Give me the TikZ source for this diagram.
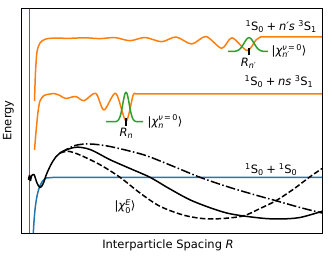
\documentclass[tikz,border=0pt]{standalone}
\usepackage{amsmath}
\usepackage{fontspec}
\setmainfont{DejaVu Sans}
\definecolor{mplblue}{HTML}{1F77B4}
\definecolor{mplorange}{HTML}{FF7F0E}
\definecolor{mplgreen}{HTML}{2CA02C}
\newcommand{\atomlvl}[2]{{}^{\text{#1}}\text{S}_{\text{#2}}}
\newcommand{\pl}{\mathbin{\text{+}}}
\newcommand{\chiket}[2]{\text{|}\textit{χ}^{#1}_{#2}\text{⟩}}
\usetikzlibrary{positioning}

\begin{document}
\begin{tikzpicture}[x=1pt,y=-1pt,
    font=\fontsize{11.5}{13.8}\selectfont,
    curve/.style={line width=1.5pt,line join=round},
    gauss/.style={curve,mplgreen},
    marker/.style={line width=1.6pt,black},
    lbl/.style={inner sep=0pt}]
    \useasboundingbox (0,0) rectangle (332,256);

    \begin{scope}
    \clip (21.5,8.5) rectangle (322,233.5);
    % ground state potential
    \draw[curve,mplblue] (29.5,0) -- (29.5,240);
    \draw[curve,mplblue] (33,240) .. controls (34.5,205) and (37,183) .. (46,178) -- (55,177.3) -- (330,177.3);

    % excited potentials
    \draw[curve,mplorange] plot[smooth] coordinates {(34.5,101) (35.5,72) (37,52) (40,43) (45,39.3) (52,38.2) (70,38.3) (85,37.8) (100,38.6) (115,37.6) (130,40.7) (145,37.5) (161.7,41.7) (176,37) (191.7,44) (206,36.5) (221.7,48.3) (232,37.8) (247,50.5) (256,40) (261,36.8)} -- (330,36.8);
    \draw[curve,mplorange] plot[smooth] coordinates {(34.5,150) (36,132) (38,112) (40,101) (44,95.5) (50,94) (54,93.5) (60,95.5) (65.7,98.5) (75.7,96.5) (84,100.7) (95.7,93.3) (104,110) (115.7,93.3) (126,121) (133,95.5) (136,94)} -- (330,94);

    % scattering wavefunction
    \draw[curve,black] plot[smooth] coordinates {(28.5,180) (29.5,175.5) (30.5,180.5) (31.5,176) (34,174.5) (37,183) (40,187.5) (43,184) (47,173) (53,161) (60,153) (75,147.3) (90,149.5) (110,159.7) (130,168.5) (150,177.3) (170,189) (193.3,201.3) (226.7,213) (260,218) (280,219) (300,217.5) (322,211.3)};
    \draw[curve,black,dash pattern=on 5.5pt off 2.4pt] plot[smooth] coordinates {(60,153) (68.3,151.3) (80,155) (100,164.7) (120,177.3) (140,193) (160,206.3) (185,215.5) (210,219) (241.7,216.3) (260,208.5) (276,200.7) (293,189.5) (309.3,177.3) (322,168.5)};
    \draw[curve,black,dash pattern=on 9.6pt off 2.4pt on 1.5pt off 2.4pt] plot[smooth] coordinates {(60,153) (75,145.5) (90,144) (110,146.5) (143.3,154.7) (170,165) (200,177.3) (230,187.5) (260,196.3) (276,200.7) (300,207.5) (322,213)};

    % bound states
    \draw[gauss] (106,121.7) -- plot[domain=114:138,samples=40] (\x,{121.7-29.4*exp(-((\x-126)/4.5)^2)}) -- (143,121.7);
    \draw[marker] (126,118) -- (126,126);
    \draw[gauss] (228,51.5) -- plot[domain=233:265,samples=40] (\x,{51.5-13.8*exp(-((\x-249)/7)^2)}) -- (268,51.5);
    \draw[marker] (249,48) -- (249,55);
    \end{scope}

    % axes
    \draw[line width=0.8pt] (21.5,8.5) rectangle (322,233.5);

    % labels
    \node[lbl,anchor=base east] (lvltop) at (317,30.5) {$\atomlvl{1}{0}\pl\textit{n′s}\;\atomlvl{3}{1}$};
    \node[lbl,anchor=base east] (lvlmid) at (313.5,86) {$\atomlvl{1}{0}\pl\textit{ns}\;\atomlvl{3}{1}$};
    \node[lbl,anchor=base east] (lvlgnd) at (297.5,173.5) {$\atomlvl{1}{0}\pl\atomlvl{1}{0}$};
    \node[lbl,anchor=west] (ketup) at (271.5,51) {$\chiket{\text{\textit{ν}\,=\,0}}{\textit{n′}}$};
    \node[lbl,anchor=west] (ketlow) at (147.5,121.5) {$\chiket{\text{\textit{ν}\,=\,0}}{\textit{n}}$};
    \node[lbl] (rup) at (248.5,63.5) {$\textit{R}_{\textit{n′}}$};
    \node[lbl] (rlow) at (126.5,133) {$\textit{R}_{\textit{n}}$};
    \node[lbl] (ketscat) at (125,206.5) {$\chiket{\textit{E}}{\text{0}}$};
    \node[lbl,rotate=90] (ylab) at (8.5,120.5) {Energy};
    \node[lbl] (xlab) at (168,245.5) {Interparticle Spacing \textit{R}};
\end{tikzpicture}
\end{document}
